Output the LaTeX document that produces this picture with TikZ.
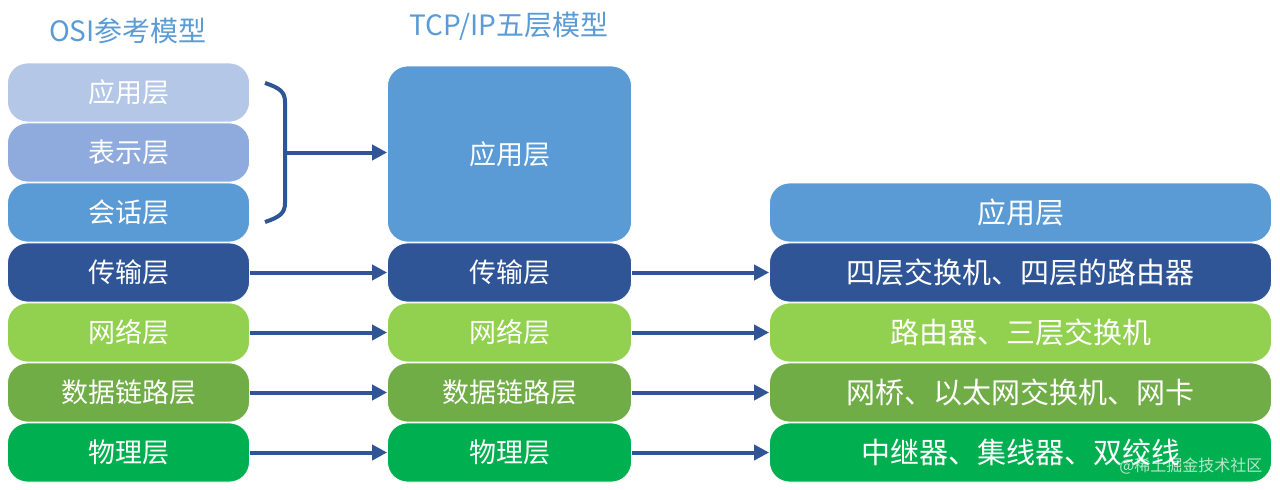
\documentclass[tikz,border=0pt]{standalone}
\usepackage{fontspec}
\setmainfont{Noto Sans CJK SC}
\usetikzlibrary{arrows.meta}
\definecolor{cApp}{HTML}{B4C7E7}
\definecolor{cPre}{HTML}{8FAADC}
\definecolor{cSes}{HTML}{5B9BD5}
\definecolor{cTra}{HTML}{2F5597}
\definecolor{cNet}{HTML}{92D050}
\definecolor{cDat}{HTML}{70AD47}
\definecolor{cPhy}{HTML}{00B050}
\definecolor{cArr}{HTML}{2F5597}
\definecolor{cTitle}{HTML}{5B9BD5}
\tikzset{
  layer/.style={rounded corners=20pt, draw=white, line width=0.8pt, text=white,
    minimum height=59pt, inner sep=0pt, font=\fontsize{27}{31}\selectfont},
  osi/.style={layer, minimum width=242pt},
  tcp/.style={layer, minimum width=244pt},
  dev/.style={layer, minimum width=502pt, font=\fontsize{29}{33}\selectfont},
  arr/.style={draw=cArr, line width=4pt, -{Triangle[length=15pt,width=15pt]}},
  ttl/.style={text=cTitle, font=\fontsize{28}{32}\selectfont}
}
\begin{document}
\begin{tikzpicture}[x=1pt,y=-1pt]
\useasboundingbox (0,0) rectangle (1280,490);
% titles
\node[ttl] (tosi) at (128,31) {OSI参考模型};
\node[ttl] (ttcp) at (509,26) {TCP/IP五层模型};
% OSI column
\node[osi, fill=cApp] (o1) at (128.5,92.5) {应用层};
\node[osi, fill=cPre] (o2) at (128.5,152.5) {表示层};
\node[osi, fill=cSes] (o3) at (128.5,212.5) {会话层};
\node[osi, fill=cTra] (o4) at (128.5,272.5) {传输层};
\node[osi, fill=cNet] (o5) at (128.5,332.5) {网络层};
\node[osi, fill=cDat] (o6) at (128.5,392.5) {数据链路层};
\node[osi, fill=cPhy] (o7) at (128.5,452.5) {物理层};
% TCP/IP column
\node[tcp, fill=cSes, minimum height=176pt] (t1) at (509.5,154) {应用层};
\node[tcp, fill=cTra] (t4) at (509.5,272.5) {传输层};
\node[tcp, fill=cNet] (t5) at (509.5,332.5) {网络层};
\node[tcp, fill=cDat] (t6) at (509.5,392.5) {数据链路层};
\node[tcp, fill=cPhy] (t7) at (509.5,452.5) {物理层};
% devices column
\node[dev, fill=cSes] (r3) at (1020.5,212.5) {应用层};
\node[dev, fill=cTra] (r4) at (1020.5,272.5) {四层交换机、四层的路由器};
\node[dev, fill=cNet] (r5) at (1020.5,332.5) {路由器、三层交换机};
\node[dev, fill=cDat] (r6) at (1020.5,392.5) {网桥、以太网交换机、网卡};
\node[dev, fill=cPhy] (r7) at (1020.5,452.5) {中继器、集线器、双绞线};
% brace
\coordinate (bt) at (265,83);
\coordinate (bb) at (265,222);
\coordinate (bm) at (285,152.5);
\draw[cArr, line width=4pt, line join=round]
  (bt) .. controls (280,88) and (285,92) .. (285,102)
  -- (285,203) .. controls (285,213) and (280,217) .. (bb);
\draw[arr] (bm) -- (t1.west |- bm);
% arrows
\foreach \i in {4,5,6,7}{
  \draw[arr] (o\i.east) -- (t\i.west);
  \draw[arr] (t\i.east) -- (r\i.west);
}
% watermark
\node[text=white, opacity=0.7, font=\fontsize{16}{19}\selectfont, anchor=east] (wm) at (1266,466) {@稀土掘金技术社区};
\end{tikzpicture}
\end{document}
